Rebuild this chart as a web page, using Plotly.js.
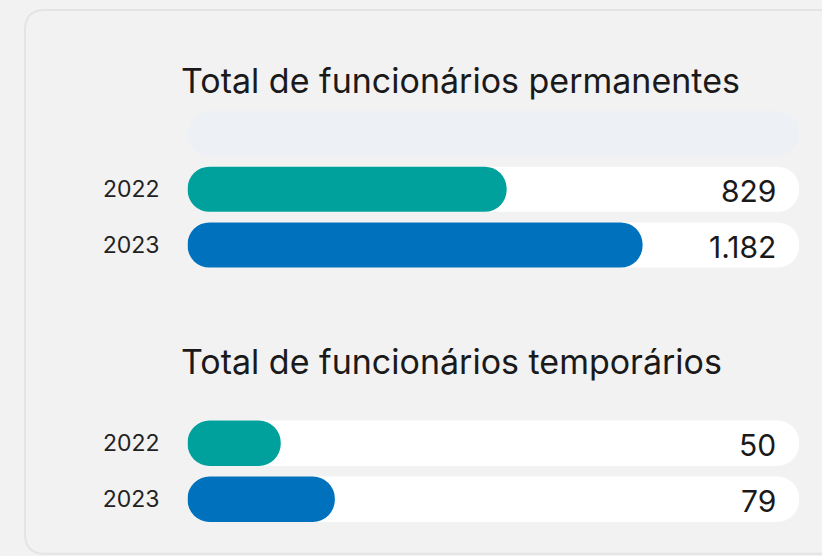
<!DOCTYPE html>
<html><head><meta charset="utf-8">
<script src="https://cdn.plot.ly/plotly-3.0.1.min.js"></script>
<style>html,body{margin:0;padding:0;background:#f2f2f2;}#chart{width:822px;height:556px;}</style>
</head><body><div id="chart"></div>
<script>
const permTitle = 'Total de funcionários permanentes';
const tempTitle = 'Total de funcionários temporários';
const years = ['2022', '2023'];
const permValues = [829, 1182];
const tempValues = [50, 79];
const permTrack = 1589;
const tempTrack = 328;
const yearColors = ['#00A19D', '#0071BC'];
const headerCat = ['head'];
const permCats = headerCat.concat(years);

const FONT = 'Inter, "Noto Sans", sans-serif';
const fmt = v => String(v).replace(/\B(?=(\d{3})+(?!\d))/g, '.');

function pill(cats, vals, colors, xa, ya) {
  return {type: 'bar', orientation: 'h', y: cats, width: 0.81,
    x: vals, base: vals.map(() => 0),
    marker: {color: colors, cornerradius: '50%', line: {width: 0}},
    xaxis: xa, yaxis: ya, hoverinfo: 'skip', showlegend: false};
}

const traces = [
  pill(headerCat, [permTrack], '#EDF1F5', 'x', 'y'),
  pill(years, years.map(() => permTrack), '#FFFFFF', 'x', 'y'),
  pill(years, permValues, yearColors, 'x', 'y'),
  pill(years, years.map(() => tempTrack), '#FFFFFF', 'x2', 'y2'),
  pill(years, tempValues, yearColors, 'x2', 'y2')
];

// annotation y given as category index on the category axis
const valueAnn = (vals, cats, xr, yr) => vals.map((v, i) => ({
  x: 1, y: cats.indexOf(years[i]), xref: xr, yref: yr, text: fmt(v), showarrow: false,
  xanchor: 'right', yanchor: 'middle', xshift: -21, yshift: -2,
  font: {family: FONT, size: 30, color: '#1a1a1a'}
}));

const yCommon = {type: 'category', showgrid: false, zeroline: false, showline: false,
  ticks: '', ticklabelstandoff: 27, tickfont: {family: FONT, size: 23, color: '#222'}, fixedrange: true};
const xCommon = {domain: [0.2281, 0.9724], visible: false, showgrid: false, zeroline: false, fixedrange: true};

const layout = {
  width: 822, height: 556,
  margin: {l: 0, r: 0, t: 0, b: 0},
  paper_bgcolor: '#f2f2f2', plot_bgcolor: 'rgba(0,0,0,0)',
  barmode: 'overlay',
  font: {family: FONT},
  xaxis: Object.assign({}, xCommon, {range: [0, permTrack], anchor: 'y'}),
  yaxis: Object.assign({}, yCommon, {domain: [0.5092, 0.8101], anchor: 'x',
    categoryorder: 'array', categoryarray: permCats,
    tickvals: permCats, ticktext: ['', '2022', '2023'], range: [2.5, -0.5]}),
  xaxis2: Object.assign({}, xCommon, {range: [0, tempTrack], anchor: 'y2'}),
  yaxis2: Object.assign({}, yCommon, {domain: [0.0518, 0.2532], anchor: 'x2',
    categoryorder: 'array', categoryarray: years, range: [1.5, -0.5]}),
  shapes: [{
    type: 'path', xref: 'paper', yref: 'paper', layer: 'below',
    path: 'M 1.05 0.982 L 0.0547 0.982 Q 0.0304 0.982 0.0304 0.946 L 0.0304 0.04 Q 0.0304 0.004 0.0547 0.004 L 1.05 0.004 Z',
    fillcolor: '#f2f2f2', line: {color: '#e4e4e4', width: 2}
  }],
  annotations: [
    {xref: 'paper', yref: 'paper', x: 179 / 822, y: 1 - 81 / 556, xanchor: 'left', yanchor: 'middle',
     text: permTitle, showarrow: false, font: {family: FONT, size: 34, color: '#1a1a1a'}},
    {xref: 'paper', yref: 'paper', x: 179 / 822, y: 1 - 361 / 556, xanchor: 'left', yanchor: 'middle',
     text: tempTitle, showarrow: false, font: {family: FONT, size: 34, color: '#1a1a1a'}}
  ].concat(valueAnn(permValues, permCats, 'x domain', 'y'), valueAnn(tempValues, years, 'x2 domain', 'y2'))
};

Plotly.newPlot('chart', traces, layout, {displayModeBar: false, staticPlot: true});
</script></body></html>
